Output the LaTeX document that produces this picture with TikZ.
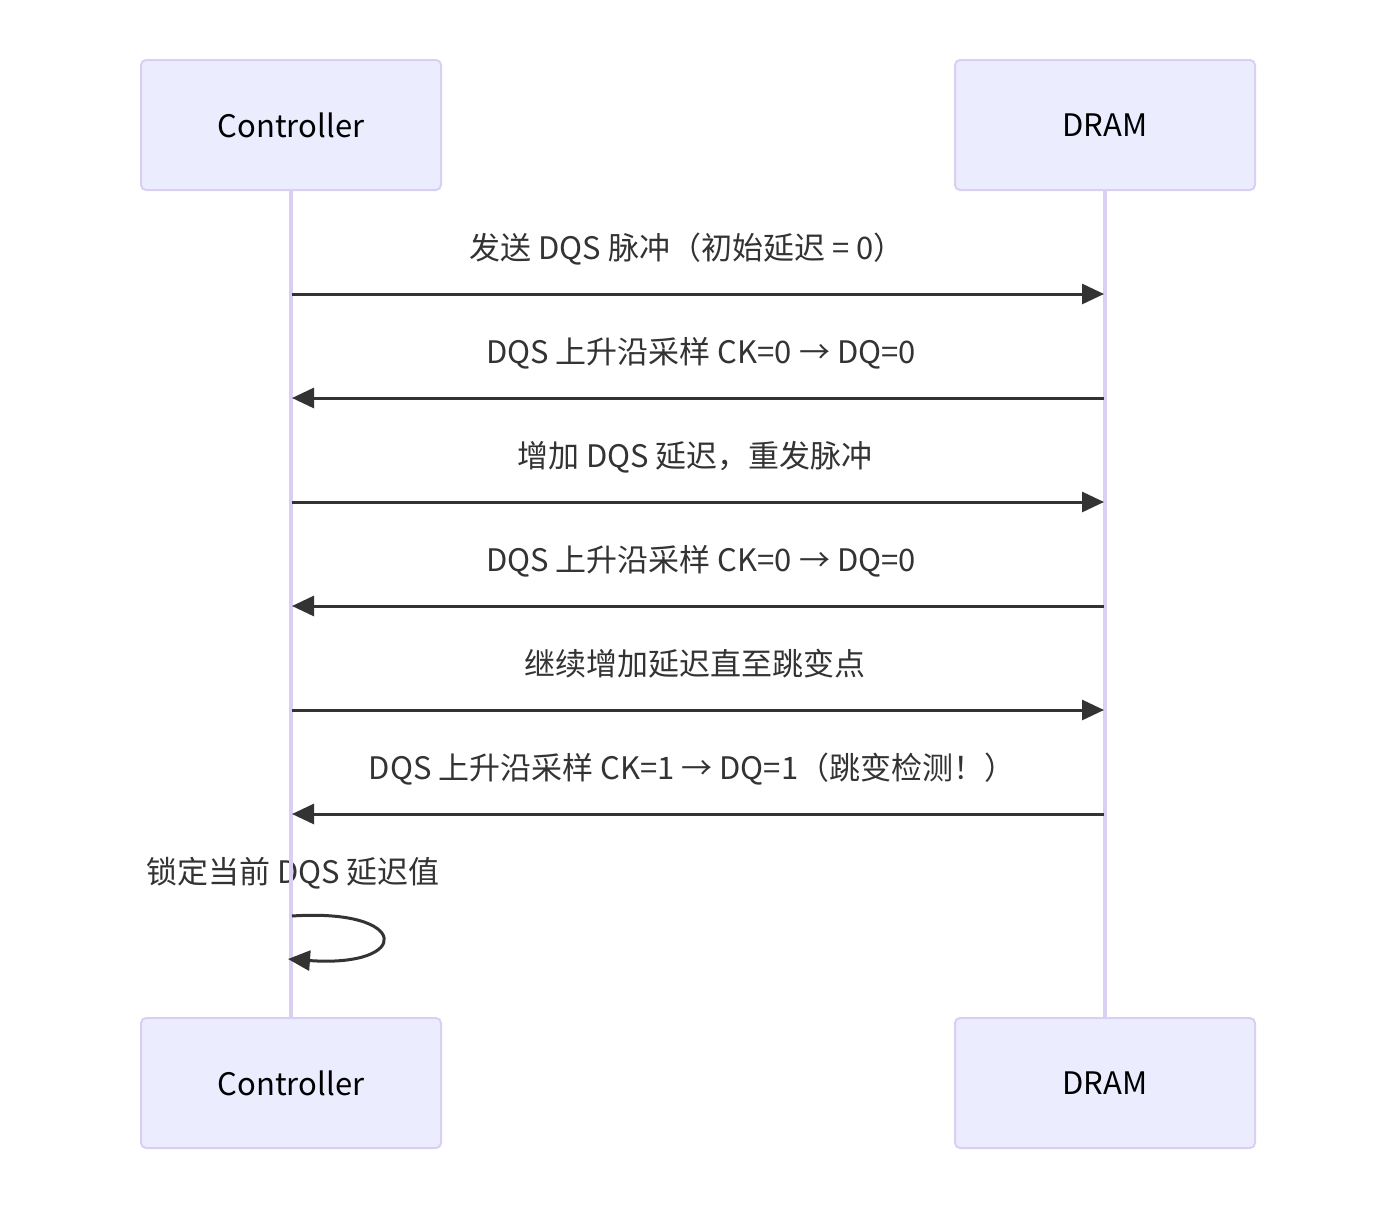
\documentclass[tikz,border=0pt]{standalone}
\usepackage{fontspec}
\setmainfont{Noto Sans CJK SC}
\usetikzlibrary{arrows.meta}
\definecolor{actfill}{HTML}{ECECFF}
\definecolor{actline}{HTML}{D9CFF2}
\definecolor{msg}{HTML}{333333}
\begin{document}
\begin{tikzpicture}[x=1pt,y=-1pt,
  actor/.style={draw=actline,fill=actfill,line width=2pt,rounded corners=5pt,
    minimum width=300pt,minimum height=130pt,inner sep=0pt,
    font=\fontsize{31}{36}\selectfont},
  life/.style={draw=actline,line width=3.5pt},
  msgline/.style={draw=msg,line width=3pt,-{Triangle[length=22pt,width=20pt]}},
  lbl/.style={anchor=base,text=msg,inner sep=0pt,font=\fontsize{31}{36}\selectfont}]
\useasboundingbox (0,0) rectangle (1395,1210);
% actors
\node[actor] (ctl) at (291,125) {Controller};
\node[actor] (dram) at (1105,125) {DRAM};
\node[actor] (ctlb) at (291,1083) {Controller};
\node[actor] (dramb) at (1105,1083) {DRAM};
% labels
\node[lbl] (l1) at (687,259) {发送 DQS 脉冲（初始延迟 = 0）};
\node[lbl] (l2) at (701,363) {DQS 上升沿采样 CK=0 → DQ=0};
\node[lbl] (l3) at (695,467) {增加 DQS 延迟，重发脉冲};
\node[lbl] (l4) at (701,571) {DQS 上升沿采样 CK=0 → DQ=0};
\node[lbl] (l5) at (695,675) {继续增加延迟直至跳变点};
\node[lbl] (l6) at (692,779) {DQS 上升沿采样 CK=1 → DQ=1（跳变检测！）};
\node[lbl] (l7) at (293,883) {锁定当前 DQS 延迟值};
% lifelines
\draw[life] (ctl.south) -- (ctlb.north);
\draw[life] (dram.south) -- (dramb.north);
% message end points
\coordinate (c1) at (292,294); \coordinate (d1) at (1104,294);
\coordinate (c2) at (292,398); \coordinate (d2) at (1104,398);
\coordinate (c3) at (292,502); \coordinate (d3) at (1104,502);
\coordinate (c4) at (292,606); \coordinate (d4) at (1104,606);
\coordinate (c5) at (292,710); \coordinate (d5) at (1104,710);
\coordinate (c6) at (292,814); \coordinate (d6) at (1104,814);
\coordinate (s1) at (292,916); \coordinate (s2) at (288,959);
% messages
\draw[msgline] (c1) -- (d1);
\draw[msgline] (d2) -- (c2);
\draw[msgline] (c3) -- (d3);
\draw[msgline] (d4) -- (c4);
\draw[msgline] (c5) -- (d5);
\draw[msgline] (d6) -- (c6);
\draw[msgline] (s1) .. controls (412,908) and (412,968) .. (s2);
\end{tikzpicture}
\end{document}
